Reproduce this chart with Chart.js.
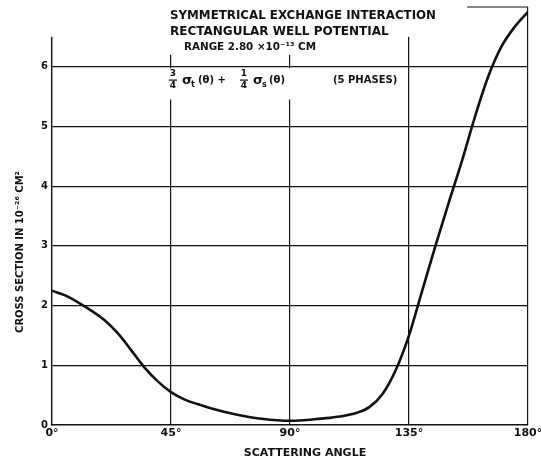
<!DOCTYPE html>
<html>
<head>
<meta charset="utf-8">
<script src="https://cdn.jsdelivr.net/npm/chart.js@4"></script>
<style>
  html, body { margin: 0; padding: 0; background: #fff; }
  #wrap { width: 541px; height: 461px; }
</style>
</head>
<body>
<div id="wrap"><canvas id="graph_cross"></canvas></div>
<script>
// scattering angle (degrees) and cross section (10^-26 cm^2)
var angles = [0, 5, 10, 15, 20, 25, 30, 35, 40, 45, 50, 55, 60, 65, 70, 75, 80, 85, 90,
              95, 100, 105, 110, 115, 120, 125, 130, 135, 140, 145, 150, 155, 160, 165, 170, 175, 180];
var crossSection = [2.25, 2.17, 2.05, 1.91, 1.75, 1.53, 1.25, 0.96, 0.73, 0.55, 0.43, 0.35, 0.28, 0.22, 0.17, 0.13, 0.10, 0.08, 0.07,
                    0.08, 0.10, 0.12, 0.15, 0.20, 0.30, 0.52, 0.92, 1.50, 2.25, 3.00, 3.72, 4.42, 5.17, 5.84, 6.34, 6.67, 6.92];
var xTicks = [0, 45, 90, 135, 180];
var yTicks = [0, 1, 2, 3, 4, 5, 6];

var titleLines = ['SYMMETRICAL EXCHANGE INTERACTION', 'RECTANGULAR WELL POTENTIAL', 'RANGE 2.80 \u00d710\u207b\u00b9\u00b3 CM'];
var phasesLabel = '(5 PHASES)';
var xTitle = 'SCATTERING ANGLE';
var yTitle = 'CROSS SECTION IN 10\u207b\u00b2\u2076 CM\u00b2';

var ink = '#111';
var fontFam = '"DejaVu Sans", sans-serif';

var points = angles.map(function (a, i) { return { x: a, y: crossSection[i] }; });

// the hand drawn grid stops short of the top and leaves a gap round the formula
var gapsPlugin = {
    id: 'gaps',
    beforeDatasetsDraw: function (chart) {
        var c = chart.ctx;
        var xs = chart.scales.x, ys = chart.scales.y;
        var x0 = xs.getPixelForValue(0), x45 = xs.getPixelForValue(45);
        var x90 = xs.getPixelForValue(90), x135 = xs.getPixelForValue(135);
        var y6 = ys.getPixelForValue(6);
        c.save();
        c.fillStyle = '#fff';
        c.fillRect(x0 - 3, 0, 6, ys.getPixelForValue(6.5));
        c.fillRect(x45 - 3, 0, 6, ys.getPixelForValue(6.2));
        c.fillRect(x90 - 3, 0, 6, ys.getPixelForValue(6.2));
        c.fillRect(x135 - 3, 0, 6, ys.getPixelForValue(6.5));
        c.fillRect(x45 - 3, y6 + 1.5, x90 - x45 + 6, ys.getPixelForValue(5.45) - y6 - 1.5);
        c.restore();
    }
};

// texts drawn on the canvas (titles, formula, axis titles) and the small top bar
var labelsPlugin = {
    id: 'labels',
    afterDraw: function (chart) {
        var c = chart.ctx;
        var xs = chart.scales.x, ys = chart.scales.y;
        c.save();
        c.fillStyle = ink;
        c.strokeStyle = ink;
        c.textBaseline = 'middle';

        // title block
        c.font = 'bold 12px ' + fontFam;
        c.textAlign = 'left';
        c.fillText(titleLines[0], 170, 16, 266);
        c.fillText(titleLines[1], 170, 32, 220);
        c.font = 'bold 11px ' + fontFam;
        c.fillText(titleLines[2], 184, 47, 132);

        // formula 3/4 sigma_t(theta) + 1/4 sigma_s(theta)
        var fy = 80;
        c.font = 'bold 9px ' + fontFam;
        c.textAlign = 'center';
        c.fillText('3', 173, fy - 6);
        c.fillText('4', 173, fy + 6);
        c.fillRect(169, fy - 0.5, 8, 1.2);
        c.fillText('1', 244, fy - 6);
        c.fillText('4', 244, fy + 6);
        c.fillRect(240, fy - 0.5, 8, 1.2);
        c.textAlign = 'left';
        c.font = 'bold 13px ' + fontFam;
        c.fillText('\u03c3', 182, fy + 1);
        c.fillText('\u03c3', 253, fy + 1);
        c.font = 'bold 10px ' + fontFam;
        c.fillText('(\u03b8) +', 198, fy);
        c.fillText('(\u03b8)', 269, fy);
        c.font = 'bold 8px ' + fontFam;
        c.fillText('t', 191, fy + 5);
        c.fillText('s', 262, fy + 5);

        // (5 PHASES)
        c.font = 'bold 10px ' + fontFam;
        c.fillText(phasesLabel, 333, 80, 68);

        // x axis title
        c.font = 'bold 11px ' + fontFam;
        c.textAlign = 'center';
        c.fillText(xTitle, 305, 453, 136);

        // y axis title, rotated
        c.save();
        c.translate(20, 252);
        c.rotate(-Math.PI / 2);
        c.font = 'bold 10px ' + fontFam;
        c.fillText(yTitle, 0, 0, 170);
        c.restore();

        // short bar at the top right corner
        c.lineWidth = 1.2;
        c.beginPath();
        c.moveTo(xs.getPixelForValue(157), ys.getPixelForValue(7));
        c.lineTo(xs.getPixelForValue(180), ys.getPixelForValue(7));
        c.stroke();
        c.restore();
    }
};

var data = {
    datasets: [{
        data: points,
        borderColor: ink,
        borderWidth: 2.6,
        pointRadius: 0,
        fill: false,
        cubicInterpolationMode: 'monotone'
    }]
};

var options = {
    responsive: false,
    animation: false,
    layout: { padding: { top: 7, right: 13, left: 0, bottom: 0 } },
    plugins: {
        legend: { display: false },
        tooltip: { enabled: false }
    },
    scales: {
        x: {
            type: 'linear',
            min: 0,
            max: 180,
            afterBuildTicks: function (s) { s.ticks = xTicks.map(function (v) { return { value: v }; }); },
            afterFit: function (s) {
                s.height = 36;
                s.paddingLeft = 0;
                s.paddingRight = 0;
            },
            ticks: {
                color: ink,
                font: { family: fontFam, size: 11, weight: 'bold' },
                padding: 2,
                maxRotation: 0,
                callback: function (v) { return v + '\u00b0'; }
            },
            grid: {
                color: function (ctx) { return ctx.tick && ctx.tick.value === 0 ? 'transparent' : ink; },
                lineWidth: 1.2,
                drawTicks: false
            },
            border: { display: true, color: ink, width: 1.4 }
        },
        y: {
            min: 0,
            max: 7,
            afterBuildTicks: function (s) { s.ticks = yTicks.map(function (v) { return { value: v }; }); },
            afterFit: function (s) {
                s.width = 52;
                s.paddingTop = 0;
                s.paddingBottom = 0;
            },
            ticks: {
                color: ink,
                font: { family: fontFam, size: 10, weight: 'bold' },
                padding: 4
            },
            grid: {
                color: function (ctx) { return ctx.tick && ctx.tick.value === 0 ? 'transparent' : ink; },
                lineWidth: 1.2,
                drawTicks: false
            },
            border: { display: true, color: ink, width: 1.4 }
        }
    }
};

var canvas = document.getElementById('graph_cross');
canvas.width = 541;
canvas.height = 461;

var config = {
    type: 'line',
    data: data,
    options: options,
    plugins: [gapsPlugin, labelsPlugin]
};

var graph_cross = new Chart(canvas.getContext('2d'), config);
</script>
</body>
</html>
